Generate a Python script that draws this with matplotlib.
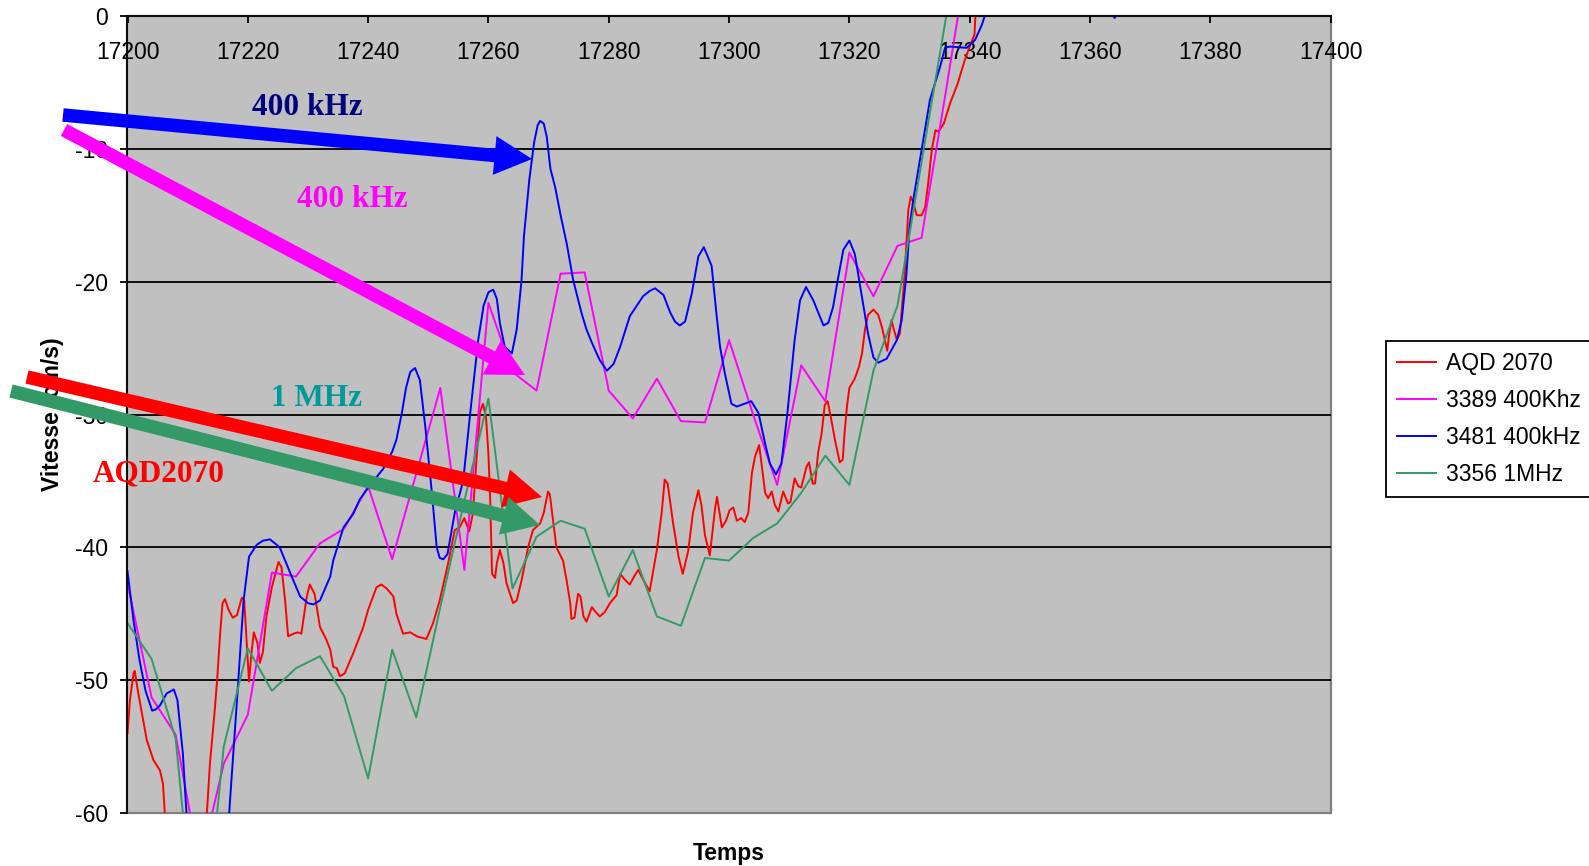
import numpy as np
import matplotlib.pyplot as plt
from matplotlib.patches import FancyArrowPatch

plt.rcParams['font.family'] = ['Liberation Sans', 'DejaVu Sans']
plt.rcParams['axes.unicode_minus'] = False

# --- series -------------------------------------------------------------
t_aqd = [17200.0, 17200.4, 17201.0, 17201.2, 17201.8, 17202.4, 17203.2, 17204.3, 17205.4, 17205.9,
         17206.2, 17208.0, 17210.0, 17212.0, 17213.2, 17213.7, 17214.4, 17214.9, 17215.4, 17215.8,
         17216.2, 17216.8, 17217.5, 17218.2, 17219.0, 17219.4, 17219.8, 17220.2, 17220.6, 17221.0,
         17221.6, 17222.0, 17222.5, 17223.1, 17224.0, 17225.1, 17225.6, 17226.2, 17226.7, 17227.6,
         17228.3, 17228.9, 17229.8, 17230.3, 17231.1, 17232.0, 17233.1, 17233.7, 17234.2, 17234.8,
         17235.3, 17236.1, 17237.5, 17239.2, 17240.0, 17241.4, 17242.2, 17243.1, 17244.2, 17244.7,
         17245.8, 17247.0, 17248.1, 17249.7, 17250.8, 17251.9, 17253.3, 17254.4, 17255.2, 17256.0,
         17256.8, 17257.4, 17258.0, 17258.6, 17259.1, 17259.6, 17260.0, 17260.3, 17260.6, 17261.1,
         17261.4, 17261.9, 17262.5, 17263.0, 17264.1, 17264.7, 17265.5, 17266.6, 17267.4, 17268.6,
         17269.2, 17269.9, 17270.2, 17270.8, 17271.3, 17272.4, 17273.0, 17273.6, 17273.8, 17274.3,
         17274.9, 17275.3, 17275.8, 17276.3, 17277.2, 17277.7, 17278.5, 17279.3, 17280.2, 17281.3,
         17281.9, 17282.6, 17283.5, 17284.2, 17284.9, 17285.8, 17286.8, 17288.0, 17288.8, 17289.3,
         17289.8, 17290.7, 17291.6, 17292.3, 17293.2, 17294.0, 17294.9, 17295.4, 17296.0, 17296.8,
         17297.7, 17298.0, 17298.8, 17299.5, 17300.1, 17300.7, 17301.3, 17302.0, 17302.6, 17303.2,
         17303.8, 17304.3, 17305.0, 17305.4, 17306.0, 17306.5, 17307.1, 17307.6, 17308.2, 17309.0,
         17309.8, 17310.2, 17310.9, 17311.5, 17312.0, 17312.9, 17313.3, 17313.9, 17314.3, 17314.8,
         17315.4, 17315.9, 17316.4, 17317.0, 17317.6, 17318.4, 17318.9, 17319.2, 17319.6, 17320.0,
         17320.9, 17321.6, 17322.1, 17322.6, 17323.1, 17324.0, 17324.8, 17325.4, 17325.9, 17326.3,
         17326.6, 17327.0, 17327.4, 17327.9, 17328.4, 17329.2, 17329.8, 17330.2, 17330.6, 17331.2,
         17332.0, 17332.6, 17333.1, 17333.7, 17334.3, 17334.8, 17335.7, 17336.8, 17338.0, 17339.2,
         17340.0, 17340.8, 17341.0]
v_aqd = [-54.0, -51.5, -49.5, -49.3, -51.0, -52.5, -54.5, -56.0, -56.8, -57.8,
         -60.0, -66.0, -68.0, -64.0, -60.0, -56.3, -52.8, -50.0, -46.5, -44.2,
         -43.9, -44.7, -45.3, -45.1, -43.8, -44.0, -47.0, -50.1, -48.0, -46.4,
         -47.2, -48.7, -47.9, -45.2, -43.0, -41.1, -41.5, -44.0, -46.7, -46.5,
         -46.4, -46.5, -43.7, -42.8, -43.5, -46.0, -47.0, -47.7, -49.0, -49.1,
         -49.7, -49.5, -48.0, -46.0, -44.7, -43.0, -42.8, -43.1, -43.7, -45.0,
         -46.5, -46.4, -46.7, -46.9, -45.7, -44.0, -41.2, -38.7, -38.5, -37.8,
         -38.8, -37.5, -33.5, -29.8, -29.2, -30.2, -33.0, -36.5, -42.0, -42.3,
         -41.2, -40.2, -41.2, -42.7, -44.2, -44.0, -42.5, -40.0, -38.7, -38.2,
         -37.4, -35.8, -36.0, -38.2, -40.0, -41.0, -42.5, -44.2, -45.4, -45.3,
         -43.5, -43.7, -45.2, -45.6, -44.5, -44.8, -45.2, -44.9, -44.2, -43.6,
         -42.0, -42.4, -42.8, -42.2, -41.7, -42.5, -43.3, -40.2, -37.4, -34.9,
         -35.2, -38.2, -40.7, -42.0, -40.3, -37.4, -35.7, -36.8, -39.1, -40.6,
         -37.0, -36.2, -38.5, -38.0, -37.2, -37.0, -38.0, -37.8, -38.1, -37.4,
         -34.4, -33.2, -32.3, -33.7, -35.9, -36.3, -35.8, -36.8, -37.3, -35.8,
         -36.7, -36.6, -34.8, -35.4, -35.5, -33.9, -33.6, -35.2, -35.2, -32.9,
         -31.4, -29.3, -29.0, -30.4, -31.9, -33.6, -33.4, -31.4, -29.4, -28.0,
         -27.3, -26.4, -25.4, -23.6, -22.5, -22.1, -22.5, -23.4, -24.4, -25.2,
         -24.0, -22.9, -23.6, -24.4, -23.9, -19.4, -14.6, -13.6, -14.0, -15.0,
         -15.0, -14.4, -12.6, -10.1, -8.6, -8.7, -8.1, -6.5, -5.1, -3.3,
         -2.3, -1.4, 0.5]

t_3389 = [17200, 17204, 17208, 17212, 17216, 17220, 17224, 17228, 17232, 17236,
          17240, 17244, 17252, 17256, 17260, 17264, 17268, 17272, 17276, 17280,
          17284, 17288, 17292, 17296, 17300, 17304, 17308, 17312, 17316, 17320,
          17324, 17328, 17332, 17336, 17340]
v_3389 = [-42.7, -51.3, -54.1, -64.0, -56.3, -52.6, -41.9, -42.2, -39.7, -38.6,
          -35.4, -40.9, -28.0, -41.7, -21.6, -26.8, -28.2, -19.4, -19.3, -28.2,
          -30.3, -27.3, -30.5, -30.6, -24.4, -30.0, -35.3, -26.3, -29.0, -17.8,
          -21.1, -17.3, -16.7, -5.8, 5.5]

t_3481 = [17200.0, 17201.0, 17202.0, 17203.0, 17204.1, 17204.7, 17205.4, 17206.5, 17207.7, 17208.3,
          17209.2, 17209.8, 17211.0, 17213.0, 17215.5, 17216.9, 17218.2, 17219.3, 17220.2, 17221.5,
          17222.5, 17223.7, 17225.3, 17227.3, 17228.7, 17230.0, 17230.9, 17232.0, 17233.7, 17234.2,
          17235.9, 17237.5, 17238.6, 17240.5, 17242.5, 17244.0, 17244.7, 17245.6, 17246.3, 17247.0,
          17247.8, 17248.6, 17249.5, 17250.6, 17251.4, 17251.9, 17252.5, 17253.2, 17254.4, 17255.8,
          17256.9, 17258.3, 17259.2, 17260.0, 17260.8, 17261.4, 17261.9, 17262.7, 17263.9, 17264.7,
          17265.5, 17265.9, 17266.8, 17267.6, 17268.2, 17268.6, 17269.2, 17269.7, 17270.3, 17271.1,
          17272.0, 17273.0, 17274.1, 17275.5, 17276.3, 17277.2, 17278.5, 17279.7, 17280.8, 17281.9,
          17283.5, 17285.7, 17286.8, 17287.7, 17289.1, 17290.2, 17291.0, 17291.8, 17292.7, 17293.8,
          17294.9, 17295.8, 17297.1, 17297.9, 17298.5, 17299.3, 17300.4, 17301.3, 17302.5, 17303.7,
          17304.9, 17306.0, 17306.8, 17307.8, 17308.7, 17309.7, 17310.9, 17311.8, 17312.8, 17314.0,
          17315.7, 17316.5, 17317.3, 17318.1, 17319.0, 17320.0, 17320.9, 17322.0, 17323.1, 17324.0,
          17324.8, 17326.2, 17327.9, 17328.7, 17329.5, 17330.0, 17330.6, 17332.0, 17333.4, 17335.1,
          17335.9, 17336.7, 17339.5, 17340.9, 17342.0, 17342.5, 17344.0, 17350.0, 17363.5, 17364.1,
          17364.7, 17370.0]
v_3481 = [-41.8, -45.5, -48.5, -50.8, -52.3, -52.2, -51.9, -51.0, -50.7, -51.5,
          -55.5, -60.0, -67.0, -72.0, -68.0, -60.0, -51.5, -44.0, -40.7, -39.8,
          -39.5, -39.4, -40.0, -42.2, -43.7, -44.2, -44.3, -44.0, -42.2, -41.0,
          -38.5, -37.5, -36.4, -35.2, -34.1, -32.8, -31.9, -29.9, -28.0, -26.8,
          -26.5, -27.4, -30.9, -35.9, -40.0, -40.8, -40.9, -40.5, -37.4, -35.0,
          -30.2, -24.4, -21.8, -20.8, -20.6, -21.3, -23.1, -24.9, -25.4, -23.6,
          -19.9, -16.6, -12.3, -9.5, -8.2, -7.9, -8.1, -9.1, -11.5, -12.9,
          -15.0, -17.1, -19.9, -22.4, -23.6, -24.6, -25.9, -26.7, -26.2, -24.9,
          -22.6, -21.1, -20.7, -20.5, -21.0, -22.3, -23.0, -23.3, -23.0, -20.9,
          -18.1, -17.4, -18.8, -22.4, -24.9, -26.9, -29.2, -29.4, -29.2, -29.0,
          -29.9, -32.2, -33.7, -34.5, -33.7, -29.9, -24.4, -21.4, -20.4, -21.4,
          -23.3, -23.1, -21.9, -19.8, -17.6, -16.9, -17.9, -20.9, -23.9, -25.7,
          -26.1, -25.8, -24.4, -22.9, -19.4, -15.9, -13.9, -10.1, -6.3, -3.8,
          -2.4, -2.3, -2.4, -1.8, -0.7, 0.0, 2.5, 6.0, 0.3, -0.15,
          0.3, 5.0]

t_3356 = [17200, 17204, 17208, 17212, 17216, 17220, 17224, 17228, 17232, 17236,
          17240, 17244, 17248, 17252, 17256, 17260, 17264, 17268, 17272, 17276,
          17280, 17284, 17288, 17292, 17296, 17300, 17304, 17308, 17312, 17316,
          17320, 17324, 17328, 17332, 17336, 17340]
v_3356 = [-45.7, -48.4, -54.4, -73.0, -55.0, -47.6, -50.8, -49.1, -48.2, -51.2,
          -57.4, -47.7, -52.8, -44.5, -36.5, -28.8, -43.1, -39.2, -38.0, -38.6,
          -43.7, -40.2, -45.2, -45.9, -40.8, -41.0, -39.3, -38.2, -35.9, -33.1,
          -35.3, -26.7, -21.8, -11.0, -0.3, 10.0]

x_ticks = np.arange(17200, 17401, 20)
y_ticks = np.arange(-60, 1, 10)

# --- figure -------------------------------------------------------------
W, H = 1589, 866
fig = plt.figure(figsize=(W / 100, H / 100), dpi=100)
fig.patch.set_facecolor('white')
ax = fig.add_axes([127.5 / W, 1 - 813 / H, (1330.6 - 127.5) / W, (813 - 16) / H])
ax.set_facecolor('#C0C0C0')
ax.patch.set_edgecolor('#808080')
ax.patch.set_linewidth(1.6)

for y in y_ticks[1:-1]:
    ax.axhline(y, color='black', lw=1.3, zorder=0.5)

lw = 1.4
ax.plot(t_aqd, v_aqd, color='#FF0000', lw=lw, label='AQD 2070')
ax.plot(t_3389, v_3389, color='#FF00FF', lw=lw, label='3389 400Khz')
ax.plot(t_3481, v_3481, color='#0000FF', lw=lw, label='3481 400kHz')
ax.plot(t_3356, v_3356, color='#339966', lw=lw, label='3356 1MHz')

ax.set_xlim(17200, 17400)
ax.set_ylim(-60, 0)
ax.set_xticks(x_ticks)
ax.set_yticks(y_ticks)

# horizontal axis crosses at 0, labels hang below it
ax.spines['bottom'].set_position(('data', 0))
ax.spines['top'].set_visible(False)
ax.spines['right'].set_visible(False)
for s in ('bottom', 'left'):
    ax.spines[s].set_color('black')
    ax.spines[s].set_linewidth(1.3)
ax.tick_params(axis='x', direction='out', length=5, width=1.3, pad=13, labelsize=16.5)
ax.tick_params(axis='y', direction='out', length=5, width=1.3, pad=9, labelsize=16.5)

ax.set_xlabel('Temps', fontsize=16.5, fontweight='bold')
ax.xaxis.set_label_coords(0.5, -0.037)
ax.set_ylabel('Vitesse (cm/s)', fontsize=16.5, fontweight='bold')
ax.yaxis.set_label_coords(-0.0525, 0.5)

leg = fig.legend(loc='upper left', bbox_to_anchor=(1386 / W, 1 - 341 / H), fontsize=16.5,
                 fancybox=False, edgecolor='black', framealpha=1, handlelength=1.7,
                 labelspacing=0.6, borderpad=0.5, handletextpad=0.4, borderaxespad=0)
leg.get_frame().set_linewidth(1.3)

# --- annotation arrows (figure pixels, origin top-left) -------------------
def px(x, y):
    return (x / W, 1 - y / H)

arrows = [((63, 115), (532, 159), '#0000FF'),
          ((64, 130), (525, 375), '#FF00FF'),
          ((27, 377), (542, 497), '#FF0000'),
          ((11, 391), (540, 525), '#339966')]
for p0, p1, c in arrows:
    fig.add_artist(FancyArrowPatch(px(*p0), px(*p1), transform=fig.transFigure,
                                   arrowstyle='simple,head_length=27,head_width=28,tail_width=9.7',
                                   mutation_scale=1, shrinkA=0, shrinkB=0,
                                   color=c, lw=0, zorder=5))

serif = dict(family='Liberation Serif', fontweight='bold', fontsize=22.5,
             ha='center', va='baseline', zorder=6)
fig.text(*px(307.5, 115), '400 kHz', color='#000080', **serif)
fig.text(*px(352.7, 206.7), '400 kHz', color='#FF00FF', **serif)
fig.text(*px(316.7, 406.5), '1 MHz', color='#009999', **serif)
fig.text(*px(159, 481.5), 'AQD2070', color='#FF0000', **serif)

fig.savefig('out.png', dpi=100)
